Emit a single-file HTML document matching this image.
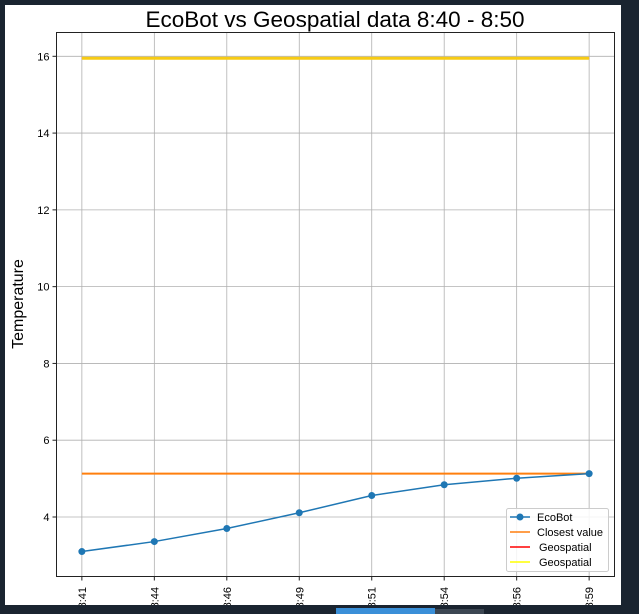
<!DOCTYPE html>
<html><head><meta charset="utf-8"><style>
html,body{margin:0;padding:0;background:#1a2430;}
svg{display:block;font-family:"Liberation Sans","DejaVu Sans",sans-serif;}
</style></head><body>
<svg width="639" height="614" viewBox="0 0 639 614">
<rect x="0" y="0" width="639" height="614" fill="#1a2430"/>
<rect x="5" y="5" width="616" height="600" fill="#ffffff"/>
<rect x="336" y="608" width="99" height="6" fill="#3a8fd8"/>
<rect x="435" y="609" width="49" height="5" fill="#3c4652"/>
<defs><clipPath id="fig"><rect x="5" y="5" width="616" height="600"/></clipPath></defs>
<text x="335" y="27" font-size="22.5" text-anchor="middle" fill="#000">EcoBot vs Geospatial data 8:40 - 8:50</text>
<text transform="translate(23,304) rotate(-90)" font-size="16" text-anchor="middle" fill="#000">Temperature</text>
<g id="grid"></g>
<g id="marks"></g>
<rect x="56.5" y="32.5" width="558" height="544" fill="none" stroke="#222" stroke-width="1"/>
<g id="ticks" clip-path="url(#fig)"></g>
<g id="legend">
<rect x="506.5" y="508.5" width="102" height="63" fill="#fff" fill-opacity="0.85" stroke="#ccc" rx="2"/>
<line x1="510" y1="517" x2="530" y2="517" stroke="#1f77b4" stroke-width="1.5"/>
<circle cx="520" cy="517" r="3.5" fill="#1f77b4"/>
<text x="537" y="521" font-size="11">EcoBot</text>
<line x1="510" y1="532" x2="530" y2="532" stroke="#ff7f0e" stroke-width="1.5"/>
<text x="537" y="536" font-size="11">Closest value</text>
<line x1="510" y1="547" x2="530" y2="547" stroke="#ff0000" stroke-width="1.5"/>
<text x="539" y="551" font-size="11">Geospatial</text>
<line x1="510" y1="562" x2="530" y2="562" stroke="#ffff00" stroke-width="1.5"/>
<text x="539" y="566" font-size="11">Geospatial</text>
</g>
</svg>
<script>
const categories = ["8:41","8:44","8:46","8:49","8:51","8:54","8:56","8:59"];
const ecobot = [3.10,3.36,3.70,4.11,4.56,4.84,5.01,5.13];
const closestValue = 5.13;
const geospatialRed = 15.95;
const geospatialYellow = 15.95;
const yTicks = [4,6,8,10,12,14,16];

const NS="http://www.w3.org/2000/svg";
const L=56.5,R=614.5,T=32.5,B=576.5;
const xMin=-0.35,xMax=categories.length-1+0.35,yMin=2.45,yMax=16.62;
const xs=i=>L+(i-xMin)/(xMax-xMin)*(R-L);
const ys=v=>B-(v-yMin)/(yMax-yMin)*(B-T);
function mk(tag,attrs,parent){const e=document.createElementNS(NS,tag);for(const k in attrs)e.setAttribute(k,attrs[k]);parent.appendChild(e);return e;}
const grid=document.getElementById('grid'),marks=document.getElementById('marks'),ticks=document.getElementById('ticks');
categories.forEach((c,i)=>{
  const x=xs(i);
  const g=mk('line',{x1:x,y1:T,x2:x,y2:B,stroke:'#b0b0b0','stroke-width':0.8},grid);
  
  
  const tk=mk('line',{x1:x,y1:B,x2:x,y2:B+4,stroke:'#222'},ticks);
  
  
  const t=mk('text',{transform:`translate(${x+4},${B+10.5}) rotate(-90)`,'font-size':11,'text-anchor':'end',fill:'#000'},ticks);
  t.textContent=c;
  
  
});
yTicks.forEach(v=>{
  const y=ys(v);
  const g=mk('line',{x1:L,y1:y,x2:R,y2:y,stroke:'#b0b0b0','stroke-width':0.8},grid);
  
  
  const tk=mk('line',{x1:L-4,y1:y,x2:L,y2:y,stroke:'#222'},ticks);
  
  
  const t=mk('text',{x:L-7,y:y+4,'font-size':11,'text-anchor':'end',fill:'#000'},ticks);
  t.textContent=v;
  
  
});
const x0=xs(0),x1=xs(categories.length-1);
const cl=mk('line',{x1:x0,y1:ys(closestValue),x2:x1,y2:ys(closestValue),stroke:'#ff7f0e','stroke-width':2},marks);


const gr=mk('line',{x1:x0,y1:ys(geospatialRed),x2:x1,y2:ys(geospatialRed),stroke:'#ff0000','stroke-width':2},marks);


const gy=mk('line',{x1:x0,y1:ys(geospatialYellow),x2:x1,y2:ys(geospatialYellow),stroke:'#f7cb14','stroke-width':3},marks);


const pl=mk('polyline',{points:ecobot.map((v,i)=>xs(i)+','+ys(v)).join(' '),fill:'none',stroke:'#1f77b4','stroke-width':1.5},marks);


ecobot.forEach((v,i)=>{
  const c=mk('circle',{cx:xs(i),cy:ys(v),r:3.5,fill:'#1f77b4'},marks);
  
  
});
</script>
</body></html>
